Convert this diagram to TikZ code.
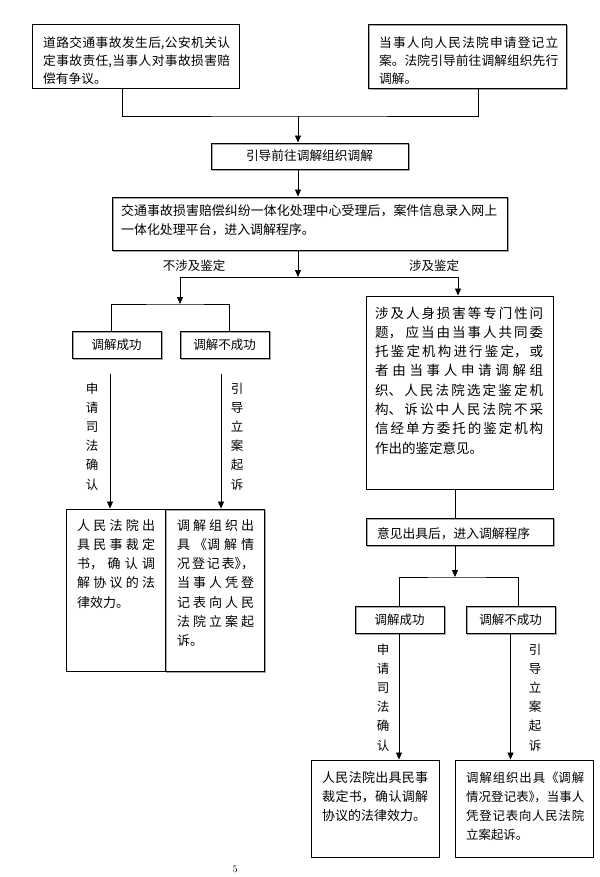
\documentclass[tikz,border=0pt]{standalone}
\usepackage{fontspec}
\newfontfamily\cjk{Noto Sans CJK SC}
\usetikzlibrary{arrows.meta}
\XeTeXlinebreaklocale "zh"
\XeTeXlinebreakskip=0pt plus 6pt
\tolerance=9999
\hbadness=10000
\begin{document}
\begin{tikzpicture}[x=1pt,y=-1pt,
  box/.style={draw, line width=0.9pt, inner sep=0pt, rectangle},
  shad/.style={preaction={draw=black!35, line width=1pt, transform canvas={shift={(1.2pt,-1.2pt)}}}},
  txt/.style={inner sep=0pt, align=justify, anchor=base west},
  lbl/.style={inner sep=0pt, font=\cjk\fontsize{12.5}{15}\selectfont},
  vlbl/.style={inner sep=0pt, text width=14pt, align=center, anchor=base, font=\cjk\fontsize{12.5}{19.2}\selectfont},
  conn/.style={line width=0.8pt},
  arr/.style={conn, -{Triangle[width=6pt,length=7pt]}}
]
\useasboundingbox[fill=white] (0,0) rectangle (599,877);

% boxes
\node[box, minimum width=207pt, minimum height=64pt] (A) at (135.5,56) {};
\node[box, shad, minimum width=198pt, minimum height=64pt] (B) at (467,56) {};
\node[box, shad, minimum width=197pt, minimum height=26pt, font=\cjk\fontsize{12.7}{15}\selectfont] (C) at (309.5,156) {引导前往调解组织调解};
\node[box, shad, minimum width=395pt, minimum height=53pt] (D) at (309.5,223.5) {};
\node[box, minimum width=187pt, minimum height=193pt] (E) at (459.5,392.5) {};
\node[box, shad, minimum width=89pt, minimum height=27pt, font=\cjk\fontsize{12.5}{15}\selectfont] (F) at (116.5,344.5) {调解成功};
\node[box, shad, minimum width=89pt, minimum height=27pt, font=\cjk\fontsize{12.5}{15}\selectfont] (G) at (224.5,344.5) {调解不成功};
\node[box, minimum width=99pt, minimum height=162pt] (H) at (115.5,590) {};
\node[box, shad, minimum width=99pt, minimum height=162pt] (I) at (214.5,590) {};
\node[box, shad, minimum width=187pt, minimum height=27pt] (J) at (459.5,531.5) {};
\node[box, shad, minimum width=89pt, minimum height=27pt, font=\cjk\fontsize{12.5}{15}\selectfont] (K) at (399.5,619.5) {调解成功};
\node[box, shad, minimum width=89pt, minimum height=27pt, font=\cjk\fontsize{12.5}{15}\selectfont] (L) at (510.5,619.5) {调解不成功};
\node[box, minimum width=128pt, minimum height=97pt] (M) at (375,808.5) {};
\node[box, minimum width=138pt, minimum height=97pt] (N) at (524,808.5) {};

% box texts
\node[txt, text width=187pt, font=\cjk\fontsize{12.7}{18}\selectfont] (At) at (43,48) {道路交通事故发生后,公安机关认\linebreak 定事故责任,当事人对事故损害赔\linebreak 偿有争议。};
\node[txt, text width=179pt, font=\cjk\fontsize{12.7}{18}\selectfont] (Bt) at (379,48) {当事人向人民法院申请登记立\linebreak 案。法院引导前往调解组织先行\linebreak 调解。};
\node[txt, text width=376pt, font=\cjk\fontsize{12.9}{19}\selectfont] (Dt) at (121,216) {交通事故损害赔偿纠纷一体化处理中心受理后，案件信息录入网上\linebreak 一体化处理平台，进入调解程序。};
\node[txt, text width=168pt, font=\cjk\fontsize{13.5}{19.3}\selectfont] (Et) at (375,318) {涉及人身损害等专门性问\linebreak 题，~应当由当事人共同委\linebreak 托鉴定机构进行鉴定，或\linebreak 者由当事人申请调解组\linebreak 织、人民法院选定鉴定机\linebreak 构、诉讼中人民法院不采\linebreak 信经单方委托的鉴定机构\linebreak 作出的鉴定意见。};
\node[txt, text width=78pt, font=\cjk\fontsize{13}{19.3}\selectfont] (Ht) at (77,530) {人民法院出\linebreak 具民事裁定\linebreak 书，确认调\linebreak 解协议的法\linebreak 律效力。};
\node[txt, text width=77pt, font=\cjk\fontsize{13}{19.3}\selectfont] (It) at (177,530) {调解组织出\linebreak 具《调解情\linebreak 况登记表》\kern-0.5em，\linebreak 当事人凭登\linebreak 记表向人民\linebreak 法院立案起\linebreak 诉。};
\node[txt, font=\cjk\fontsize{12.75}{15}\selectfont] (Jt) at (377,538) {意见出具后，进入调解程序};
\node[txt, text width=106pt, font=\cjk\fontsize{13}{19}\selectfont] (Mt) at (322,782) {人民法院出具民事\linebreak 裁定书，确认调解\linebreak 协议的法律效力。};
\node[txt, text width=118pt, font=\cjk\fontsize{12.4}{19}\selectfont] (Nt) at (466,782) {调解组织出具《调解\linebreak 情况登记表》\kern-0.55em，当事人\linebreak 凭登记表向人民法院\linebreak 立案起诉。};

% connectors
\coordinate (j1) at (298,116);
\draw[conn] ([xshift=-13.5pt]A.south) |- (j1) -| ([xshift=11pt]B.south);
\draw[arr] (j1) -- (j1 |- C.north);
\draw[arr] (j1 |- C.south) -- (j1 |- D.north);
\coordinate (j2) at (298,277);
\coordinate (j2l) at (180,277);
\coordinate (j2r) at (458,277);
\draw[arr] (j2 |- D.south) -- (j2);
\draw[conn] (j2l) -- (j2r);
\coordinate (j3) at (180,304);
\draw[arr] (j2l) -- (j3);
\draw[arr] (j2r) -- (j2r |- E.north);
\draw[conn] ([xshift=-5.5pt]F.north) |- (j3) -| ([xshift=4.5pt]G.north);
\coordinate (fh) at (110,374);
\coordinate (gi) at (221,374);
\draw[arr] (fh) -- (fh |- H.north);
\draw[arr] (gi) -- (gi |- I.north);
\draw[conn] ([xshift=-4.5pt]E.south) -- ([xshift=-4.5pt]J.north);
\coordinate (j4) at (455,577);
\draw[arr] (j4 |- J.south) -- (j4);
\draw[conn] ([xshift=-0.5pt]K.north) |- (j4) -| ([xshift=7.5pt]L.north);
\draw[arr] ([xshift=-0.5pt]K.south) -- ([xshift=-0.5pt]K.south |- M.north);
\draw[arr] (L.south) -- (L.south |- N.north);

% labels
\node[lbl] (nl) at (194,266) {不涉及鉴定};
\node[lbl] (yl) at (434,266) {涉及鉴定};
\node[vlbl] (v1) at (92,393) {申\\请\\司\\法\\确\\认};
\node[vlbl] (v2) at (237,393) {引\\导\\立\\案\\起\\诉};
\node[vlbl] (v3) at (383,654) {申\\请\\司\\法\\确\\认};
\node[vlbl] (v4) at (535,654) {引\\导\\立\\案\\起\\诉};

\node[inner sep=0pt, font=\fontsize{10}{12}\selectfont] (pg) at (235,869) {5};
\end{tikzpicture}
\end{document}
